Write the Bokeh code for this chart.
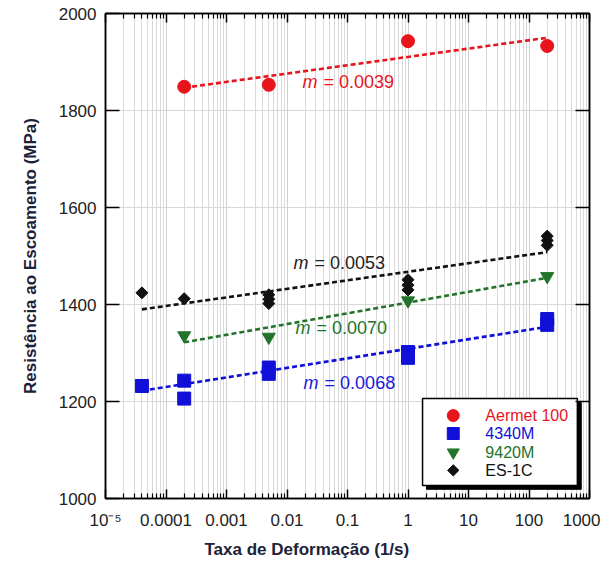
import json
import math
from bokeh.plotting import figure
from bokeh.models import (FixedTicker, LinearAxis, LogAxis, CustomJSTickFormatter, Title)
from bokeh.core.properties import value
from bokeh.embed import file_html
from bokeh.resources import INLINE

# ---------------- data ----------------
# Aermet 100
aermet_rate = [2e-4, 5e-3, 1.0, 200.0]
aermet_sy = [1849, 1853, 1943, 1933]
aermet_fit_rate = [2e-4, 200.0]
aermet_fit_sy = [1847, 1950]

# 4340M
m4340_rate = [4e-5, 2e-4, 2e-4, 5e-3, 5e-3, 1.0, 1.0, 200.0, 200.0]
m4340_sy = [1232, 1243, 1206, 1270, 1257, 1302, 1290, 1370, 1358]
m4340_fit_rate = [4e-5, 200.0]
m4340_fit_sy = [1222, 1354]

# 9420M
m9420_rate = [2e-4, 5e-3, 1.0, 200.0]
m9420_sy = [1336, 1333, 1408, 1458]
m9420_fit_rate = [2e-4, 200.0]
m9420_fit_sy = [1322, 1455]

# ES-1C
es1c_rate = [4e-5, 2e-4, 5e-3, 5e-3, 5e-3, 1.0, 1.0, 1.0, 200.0, 200.0, 200.0]
es1c_sy = [1424, 1412, 1420, 1411, 1402, 1451, 1440, 1430, 1541, 1532, 1522]
es1c_fit_rate = [4e-5, 200.0]
es1c_fit_sy = [1390, 1508]

# slope annotations (position in data coords: rate, stress)
slope_texts = ["0.0039", "0.0053", "0.0070", "0.0068"]
slope_rate = [0.018, 0.0128, 0.0138, 0.0188]
slope_sy = [1858, 1485, 1351, 1239]
slope_colors = ["#e8141c", "#222222", "#22742a", "#1a1ad8"]

series_names = ["Aermet 100", "4340M", "9420M", "ES-1C"]
colors = ["#e8141c", "#1010d8", "#22742a", "#111111"]

x_tick_values = [1e-5, 1e-4, 1e-3, 1e-2, 1e-1, 1, 10, 100, 1000]
x_tick_labels = ["10\u207b\u2075", "0.0001", "0.001", "0.01", "0.1", "1", "10", "100", "1000"]
y_tick_values = [1000, 1200, 1400, 1600, 1800, 2000]

FONT = "Liberation Sans"

# ---------------- figure ----------------
p = figure(width=600, height=565, x_axis_type="log",
           x_range=(1e-5, 1e3), y_range=(1000, 2000),
           output_backend="svg", toolbar_location=None,
           min_border_left=105, min_border_right=11, min_border_top=13,
           min_border_bottom=67)
p.background_fill_color = "white"
p.border_fill_color = "white"
p.outline_line_color = "black"
p.outline_line_width = 1.5

minor = [k * 10.0 ** e for e in range(-5, 3) for k in range(2, 10)]
xticker = FixedTicker(ticks=x_tick_values, minor_ticks=minor)
yticker = FixedTicker(ticks=y_tick_values)

label_map = {str(int(round(math.log10(v)))): s for v, s in zip(x_tick_values, x_tick_labels)}
xfmt = CustomJSTickFormatter(code="const m = %s; const e = Math.round(Math.log10(tick)); return m[String(e)] ?? '';" % json.dumps(label_map))
blank = CustomJSTickFormatter(code="return '';")

xa = p.xaxis[0]
xa.ticker = xticker
xa.formatter = xfmt
ya = p.yaxis[0]
ya.ticker = yticker

for ax in (xa, ya):
    ax.axis_line_color = "black"
    ax.axis_line_width = 1.5
    ax.major_tick_line_color = "black"
    ax.major_tick_line_width = 1.5
    ax.major_tick_out = 0
    ax.minor_tick_out = 0
    ax.major_label_text_font = FONT
    ax.major_label_text_font_size = "17px"
    ax.major_label_text_color = "#222222"
    ax.axis_label_text_font = FONT
    ax.axis_label_text_font_style = "bold"
    ax.axis_label_text_font_size = "17px"
    ax.axis_label_text_color = "#1c2238"

xa.major_tick_in = 9
xa.minor_tick_in = 5
xa.minor_tick_line_color = "black"
xa.minor_tick_line_width = 1.2
xa.major_label_standoff = 12

ya.major_tick_in = 14
ya.minor_tick_line_color = None
ya.major_label_standoff = 9
ya.axis_label = "Resistência ao Escoamento (MPa)"
ya.axis_label_standoff = 16

# x-axis title (sits left of centre in the original)
p.add_layout(Title(text="Taxa de Deformação (1/s)", align="left", offset=99,
                   text_font=FONT, text_font_style="bold", text_font_size="17px",
                   text_color="#1c2238", standoff=10), "below")

# mirrored axes (top / right), ticks only
top = LogAxis(ticker=xticker, formatter=blank, axis_line_color="black", axis_line_width=1.5,
              major_tick_in=9, major_tick_out=0, minor_tick_in=5, minor_tick_out=0,
              major_tick_line_color="black", major_tick_line_width=1.5,
              minor_tick_line_color="black", minor_tick_line_width=1.2,
              major_label_standoff=0)
right = LinearAxis(ticker=yticker, formatter=blank, axis_line_color="black", axis_line_width=1.5,
                   major_tick_in=14, major_tick_out=0, minor_tick_line_color=None,
                   major_tick_line_color="black", major_tick_line_width=1.5,
                   major_label_standoff=0)
p.add_layout(top, "above")
p.add_layout(right, "right")

# grids
p.xgrid.ticker = xticker
p.xgrid.grid_line_color = "#cfcfcf"
p.xgrid.grid_line_width = 1
p.xgrid.minor_grid_line_color = "#dadada"
p.xgrid.minor_grid_line_width = 1
p.ygrid.ticker = yticker
p.ygrid.grid_line_color = "#d8d8d8"
p.ygrid.grid_line_width = 1

# ---------------- fits ----------------
fits = [(aermet_fit_rate, aermet_fit_sy), (m4340_fit_rate, m4340_fit_sy),
        (m9420_fit_rate, m9420_fit_sy), (es1c_fit_rate, es1c_fit_sy)]
for (fx, fy), c in zip(fits, colors):
    p.line(fx, fy, line_color=c, line_width=2.6, line_dash="5 3")

# ---------------- points ----------------
p.scatter(aermet_rate, aermet_sy, marker="circle", size=13, fill_color=colors[0], line_color=colors[0])
p.scatter(m4340_rate, m4340_sy, marker="square", size=13, fill_color=colors[1], line_color=colors[1])
p.scatter(m9420_rate, m9420_sy, marker="inverted_triangle", size=13, fill_color=colors[2], line_color=colors[2])
p.scatter(es1c_rate, es1c_sy, marker="square", angle=math.pi / 4, size=8.5,
          fill_color=colors[3], line_color=colors[3])

# ---------------- slope labels ----------------
for t, xr, yv, c in zip(slope_texts, slope_rate, slope_sy, slope_colors):
    p.text([xr], [yv], text=["m"], text_color=c, text_font=value(FONT),
           text_font_style="italic", text_font_size="18px", text_baseline="middle", text_align="left")
    p.text([xr], [yv], text=["= " + t], text_color=c, text_font=value(FONT),
           text_font_size="18px", text_baseline="middle", text_align="left", x_offset=21)

# ---------------- legend (drawn box) ----------------
leg_left, leg_right = 1.74, 630.0
leg_top, leg_bottom = 1206, 1027
shadow_dx, shadow_dy = 1.16, 8
p.quad(left=[leg_left * shadow_dx], right=[leg_right * shadow_dx],
       top=[leg_top - shadow_dy], bottom=[leg_bottom - shadow_dy],
       fill_color="black", line_color="black")
p.quad(left=[leg_left], right=[leg_right], top=[leg_top], bottom=[leg_bottom],
       fill_color="white", line_color="black", line_width=1.5)
leg_sy = [1171, 1134, 1095, 1058]
leg_glyph_x = 5.6
leg_text_x = 19.0
for i in range(4):
    if i == 3:
        p.scatter([leg_glyph_x], [leg_sy[i]], marker="square", angle=math.pi / 4, size=8,
                  fill_color=colors[i], line_color=colors[i])
    else:
        mk = ["circle", "square", "inverted_triangle"][i]
        p.scatter([leg_glyph_x], [leg_sy[i]], marker=mk, size=12,
                  fill_color=colors[i], line_color=colors[i])
    p.text([leg_text_x], [leg_sy[i]], text=[series_names[i]], text_color=colors[i],
           text_font=value(FONT), text_font_size="16px", text_baseline="middle", text_align="left")

open("out.html", "w").write(file_html(p, INLINE))
